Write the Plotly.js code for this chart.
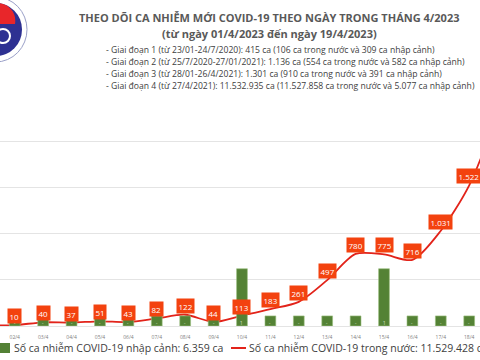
<!DOCTYPE html>
<html><head><meta charset="utf-8">
<script src="https://cdn.plot.ly/plotly-3.0.1.min.js"></script>
<style>html,body{margin:0;padding:0;background:#fff;overflow:hidden}</style>
</head><body><div id="chart" style="width:480px;height:360px"></div>
<script>
const dates = ['01/4','02/4','03/4','04/4','05/4','06/4','07/4','08/4','09/4','10/4','11/4','12/4','13/4','14/4','15/4','16/4','17/4','18/4','19/4'];
const domestic = [5,10,40,37,51,43,82,122,44,113,183,261,497,780,775,716,1031,1522,2300];
const imported = [0,0,0,0,0,0,0,0,0,1,0,0,0,0,1,0,0,0,0];
const titleLine1 = 'THEO DÕI CA NHIỄM MỚI COVID-19 THEO NGÀY TRONG THÁNG 4/2023';
const titleLine2 = '(từ ngày 01/4/2023 đến ngày 19/4/2023)';
const phases = [
  '- Giai đoạn 1 (từ 23/01-24/7/2020): 415 ca (106 ca trong nước và 309 ca nhập cảnh)',
  '- Giai đoạn 2 (từ 25/7/2020-27/01/2021): 1.136 ca (554 ca trong nước và 582 ca nhập cảnh)',
  '- Giai đoạn 3 (từ 28/01-26/4/2021): 1.301 ca (910 ca trong nước và 391 ca nhập cảnh)',
  '- Giai đoạn 4 (từ 27/4/2021): 11.532.935 ca (11.527.858 ca trong nước và 5.077 ca nhập cảnh)'
];
const legendImported = 'Số ca nhiễm COVID-19 nhập cảnh: 6.359 ca';
const legendDomestic = 'Số ca nhiễm COVID-19 trong nước: 11.529.428 ca';

const fmt = v => String(v).replace(/\B(?=(\d{3})+(?!\d))/g, '.');
const XR = [0.48, 17.38];
const PLOT_TOP = 95, PLOT_BOTTOM = 326, PLOT_H = PLOT_BOTTOM - PLOT_TOP;
const px = x => x / 480;
const py = y => (PLOT_BOTTOM - y) / PLOT_H;
const BAR_OFF = 0.213;

const font = 'Open Sans, Lato, sans-serif';
const annotations = [];
annotations.push({xref:'paper',yref:'paper',x:px(269),y:py(17),text:'<b>'+titleLine1+'</b>',showarrow:false,font:{family:font,size:11,color:'#595959'},xanchor:'center',yanchor:'middle'});
annotations.push({xref:'paper',yref:'paper',x:px(269),y:py(33),text:'<b>'+titleLine2+'</b>',showarrow:false,font:{family:font,size:11,color:'#595959'},xanchor:'center',yanchor:'middle'});
phases.forEach((t,i)=>annotations.push({xref:'paper',yref:'paper',x:px(104),y:py(50+i*12.1),text:t,showarrow:false,font:{family:font,size:8.6,color:'#404040'},xanchor:'left',yanchor:'middle'}));
domestic.forEach((v,i)=>{ if(i<XR[0]||i>XR[1]) return;
  annotations.push({x:dates[i],y:v,xref:'x',yref:'y',yshift:9,text:fmt(v),showarrow:false,font:{family:font,size:8,color:'#ffffff'},bgcolor:'#F3420F',borderpad:1.5});
});
imported.forEach((v,i)=>{ if(i<XR[0]||i>XR[1]) return;
  annotations.push({x:dates[i],y:-0.15,xref:'x',yref:'y2',text:v===0?'-':String(v),showarrow:false,font:{family:font,size:4.5,color:'#dfe9d5'}});
});
annotations.push({xref:'paper',yref:'paper',x:px(12),y:py(348),text:legendImported,showarrow:false,font:{family:font,size:10.5,color:'#404040'},xanchor:'left',yanchor:'middle'});
annotations.push({xref:'paper',yref:'paper',x:px(247),y:py(348),text:legendDomestic,showarrow:false,font:{family:font,size:10.5,color:'#404040'},xanchor:'left',yanchor:'middle'});

const shapes = [
  {type:'rect',xref:'paper',yref:'paper',x0:px(0),x1:px(10),y0:py(343),y1:py(353),fillcolor:'#538135',line:{width:0}},
  {type:'line',xref:'paper',yref:'paper',x0:px(231),x1:px(246),y0:py(348),y1:py(348),line:{color:'#E2231A',width:2}},
  {type:'circle',xref:'paper',yref:'paper',x0:px(-36),x1:px(27),y0:py(-3),y1:py(62),fillcolor:'#ffffff',line:{color:'#9aa0c8',width:1}},
  {type:'circle',xref:'paper',yref:'paper',x0:px(-30),x1:px(22),y0:py(3),y1:py(56),fillcolor:'#2E3192',line:{width:0}},
  {type:'path',xref:'paper',yref:'paper',path:`M ${px(-30)} ${py(24)} L ${px(15)} ${py(24)} C ${px(17)} ${py(12)} ${px(8)} ${py(3)} ${px(-4)} ${py(3)} Z`,fillcolor:'#E8262A',line:{width:0}},
  {type:'circle',xref:'paper',yref:'paper',x0:px(-4),x1:px(10),y0:py(29),y1:py(43),fillcolor:'rgba(0,0,0,0)',line:{color:'#ffffff',width:2}}
];

const data = [
  {type:'bar',x:dates,y:imported.map(v=>v+BAR_OFF),base:-BAR_OFF,yaxis:'y2',width:0.38,
   marker:{color:'#548235',line:{color:'#9cbf7f',width:0.6}},hoverinfo:'skip'},
  {type:'scatter',mode:'lines',x:dates,y:domestic,yaxis:'y',line:{color:'#E2231A',width:1.8,shape:'spline',smoothing:0.8},hoverinfo:'skip'}
];

const layout = {
  width:480,height:360,margin:{l:0,r:0,t:PLOT_TOP,b:360-PLOT_BOTTOM},
  paper_bgcolor:'#ffffff',plot_bgcolor:'#ffffff',showlegend:false,
  xaxis:{type:'category',range:XR,showgrid:false,zeroline:false,ticks:'outside',ticklen:6,tickcolor:'rgba(0,0,0,0)',tickfont:{family:font,size:5,color:'#808080'}},
  yaxis:{range:[0,2500],dtick:500,showticklabels:false,gridcolor:'#E4E4E4',gridwidth:1,zeroline:true,zerolinecolor:'#E4E4E4'},
  yaxis2:{overlaying:'y',range:[-BAR_OFF,4.68],visible:false},
  annotations,shapes
};
Plotly.newPlot('chart',data,layout,{staticPlot:true});
</script></body></html>
